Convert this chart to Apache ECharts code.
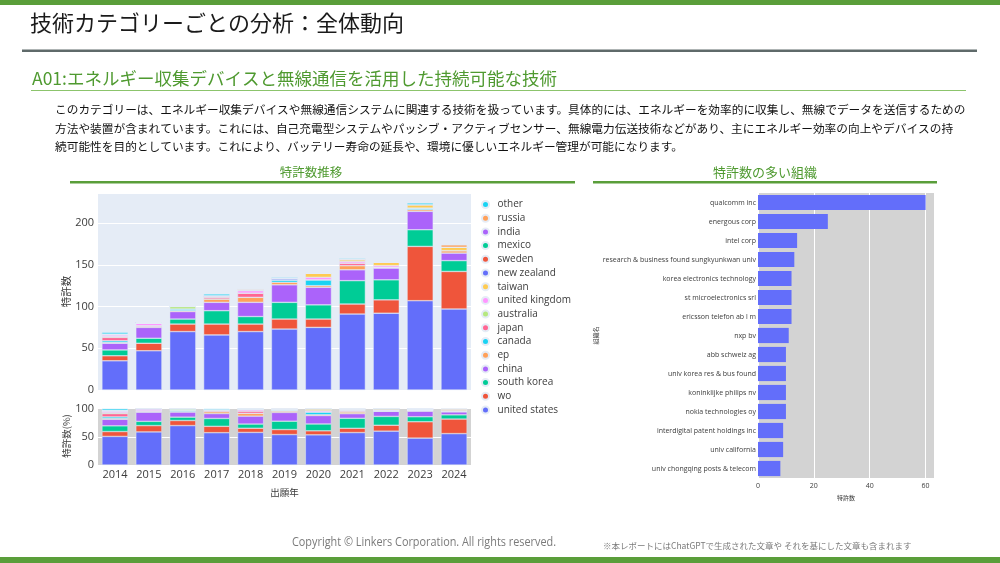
<!DOCTYPE html>
<html><head><meta charset="utf-8">
<script src="https://cdn.jsdelivr.net/npm/echarts@6/dist/echarts.min.js"></script>
<style>html,body{margin:0;padding:0;background:#fff;}#c{width:1000px;height:563px;}</style>
</head><body><div id="c"></div>
<script>
// ---- data ----
const years = ['2014','2015','2016','2017','2018','2019','2020','2021','2022','2023','2024'];
const countries = ['united states','wo','south korea','china','ep','canada','japan','australia','united kingdom','taiwan','new zealand','sweden','mexico','india','russia','other'];
const unitedStates  = [35,47,70,66,70,73,75,91,92,107,97];
const wo            = [6,9,9,13,9,12,10,12,16,65,45];
const southKorea    = [7,6,6,16,9,20,17,28,24,20,13];
const china         = [8,13,9,10,17,21,21,13,14,22,9];
const ep            = [1,1,1,4,6,3,2,5,1,2,3];
const canada        = [2,0,2,0,0,3,7,0,0,2,0];
const japan         = [4,1,0,2,5,0,0,3,0,0,0];
const australia     = [1,0,3,1,0,0,0,0,0,0,0];
const unitedKingdom = [2,3,0,1,3,0,3,2,2,0,0];
const taiwan        = [0,0,0,0,1,0,5,2,4,4,4];
const newZealand    = [1,0,0,0,0,2,0,0,0,0,0];
const sweden        = [0,0,0,0,0,0,0,1,0,0,0];
const mexico        = [0,0,0,0,0,0,0,0,0,0,0];
const india         = [0,0,0,0,0,0,0,0,0,0,0];
const russia        = [0,0,0,0,1,0,0,0,0,0,3];
const other         = [2,0,0,2,0,1,0,1,0,2,0];
const countryValues = [unitedStates,wo,southKorea,china,ep,canada,japan,australia,unitedKingdom,taiwan,newZealand,sweden,mexico,india,russia,other];

const orgs = ['qualcomm inc','energous corp','intel corp','research & business found sungkyunkwan univ','korea electronics technology','st microelectronics srl','ericsson telefon ab l m','nxp bv','abb schweiz ag','univ korea res & bus found','koninklijke philips nv','nokia technologies oy','interdigital patent holdings inc','univ california','univ chongqing posts & telecom'];
const orgCounts = [60,25,14,13,12,12,12,11,10,10,10,10,9,9,8];

// ---- style ----
const palette = ['#636EFA','#EF553B','#00CC96','#AB63FA','#FFA15A','#19D3F3','#FF6692','#B6E880','#FF97FF','#FECB52'];
const JP = '"Noto Sans CJK JP","Noto Sans",sans-serif';
const LAT = '"Open Sans","Noto Sans",sans-serif';
const GREEN = '#5a9e3a';
const AX = '#3c3c3c';

const totals = years.map((_, i) => countryValues.reduce((s, arr) => s + arr[i], 0));

const topSeries = countries.map((name, k) => ({
  name, type: 'bar', stack: 'cnt', xAxisIndex: 0, yAxisIndex: 0,
  barCategoryGap: '23%', data: countryValues[k],
  itemStyle: { color: palette[k % palette.length], borderColor: '#E5ECF6', borderWidth: 0.5 },
  emphasis: { disabled: true }
}));
const pctSeries = countries.map((name, k) => ({
  name, type: 'bar', stack: 'pct', xAxisIndex: 1, yAxisIndex: 1,
  barCategoryGap: '23%', data: countryValues[k].map((v, i) => v / totals[i] * 100),
  itemStyle: { color: palette[k % palette.length], borderColor: '#E5ECF6', borderWidth: 0.5 },
  emphasis: { disabled: true }
}));

function txt(text, x, y, size, color, opts) {
  opts = opts || {};
  return { type: 'text', x, y, scaleX: opts.scaleX || 1, silent: true,
    style: { text, x: 0, y: 0, fontSize: size, fontFamily: opts.font || JP, fill: color,
      textAlign: opts.align || 'left', textVerticalAlign: 'middle', fontWeight: opts.weight || 'normal' } };
}
function rect(x, y, w, h, fill) {
  return { type: 'rect', silent: true, shape: { x, y, width: w, height: h }, style: { fill } };
}

const option = {
  animation: false,
  backgroundColor: '#fff',
  graphic: [
    rect(0, 0, 1000, 5, GREEN),
    rect(0, 557, 1000, 6, GREEN),
    txt('技術カテゴリーごとの分析：全体動向', 30, 23, 22, '#1a1a1a'),
    rect(22, 49.5, 955, 2.5, '#5f6a6a'),
    txt('A01:エネルギー収集デバイスと無線通信を活用した持続可能な技術', 32, 78, 17.5, '#4f9a30'),
    rect(31, 90, 935, 1, '#8cc46c'),
    txt('このカテゴリーは、エネルギー収集デバイスや無線通信システムに関連する技術を扱っています。具体的には、エネルギーを効率的に収集し、無線でデータを送信するための', 55, 110, 11.7, '#111'),
    txt('方法や装置が含まれています。これには、自己充電型システムやパッシブ・アクティブセンサー、無線電力伝送技術などがあり、主にエネルギー効率の向上やデバイスの持', 55, 128.5, 11.7, '#111'),
    txt('続可能性を目的としています。これにより、バッテリー寿命の延長や、環境に優しいエネルギー管理が可能になります。', 55, 146.5, 11.7, '#111'),
    txt('特許数推移', 311, 172, 12.5, '#4f9a30', { align: 'center' }),
    rect(70, 181, 505, 2.5, GREEN),
    txt('特許数の多い組織', 765, 172, 13, '#4f9a30', { align: 'center' }),
    rect(593, 181, 344, 2.5, GREEN),
    txt('Copyright © Linkers Corporation. All rights reserved.', 292, 543, 12, '#7a7a7a', { font: '"Open Sans",sans-serif', scaleX: 0.905 }),
    txt('※本レポートにはChatGPTで生成された文章や それを基にした文章も含まれます', 603, 546, 8.5, '#7a7a7a')
  ],
  legend: {
    data: countries.slice().reverse(),
    orient: 'vertical', left: 476, top: 194.5, icon: 'circle',
    itemWidth: 14, itemHeight: 7, itemGap: 3.7, selectedMode: false,
    textStyle: { fontSize: 10, color: AX, fontFamily: LAT, lineHeight: 10 }
  },
  grid: [
    { left: 98, top: 193, width: 373, height: 197, show: true, backgroundColor: '#E5ECF6', borderWidth: 0 },
    { left: 98, top: 407, width: 373, height: 58, show: true, backgroundColor: '#d3d3d3', borderWidth: 0 },
    { left: 758, top: 193, width: 176, height: 285, show: true, backgroundColor: '#d3d3d3', borderWidth: 0 }
  ],
  xAxis: [
    { type: 'category', gridIndex: 0, data: years, axisLine: { show: false }, axisTick: { show: false }, axisLabel: { show: false } },
    { type: 'category', gridIndex: 1, data: years, axisLine: { show: false }, axisTick: { show: false },
      axisLabel: { fontSize: 11, color: AX, fontFamily: LAT, margin: 4 },
      name: '出願年', nameLocation: 'middle', nameGap: 23, nameTextStyle: { fontSize: 9.5, color: AX, fontFamily: JP } },
    { type: 'value', gridIndex: 2, min: 0, max: 63, interval: 20, axisLine: { show: false }, axisTick: { show: false },
      splitLine: { lineStyle: { color: '#fff', width: 1 } },
      axisLabel: { fontSize: 7, color: AX, fontFamily: LAT, margin: 4, showMaxLabel: false },
      name: '特許数', nameLocation: 'middle', nameGap: 17, nameTextStyle: { fontSize: 6, color: AX, fontFamily: JP } }
  ],
  yAxis: [
    { type: 'value', gridIndex: 0, min: 0, max: 236, interval: 50, axisLine: { show: false }, axisTick: { show: false },
      splitLine: { lineStyle: { color: '#fff', width: 1 } },
      axisLabel: { fontSize: 11, color: AX, fontFamily: LAT, margin: 4, showMaxLabel: false },
      name: '特許数', nameLocation: 'middle', nameGap: 26, nameRotate: 90, nameTextStyle: { fontSize: 10.5, color: AX, fontFamily: JP } },
    { type: 'value', gridIndex: 1, min: 0, max: 103, interval: 50, axisLine: { show: false }, axisTick: { show: false },
      splitLine: { lineStyle: { color: '#fff', width: 1 } },
      axisLabel: { fontSize: 11, color: AX, fontFamily: LAT, margin: 4, showMaxLabel: false },
      name: '特許数(%)', nameLocation: 'middle', nameGap: 26, nameRotate: 90, nameTextStyle: { fontSize: 9.5, color: AX, fontFamily: JP } },
    { type: 'category', gridIndex: 2, data: orgs, inverse: true, axisLine: { show: false }, axisTick: { show: false },
      axisLabel: { fontSize: 7, color: AX, fontFamily: LAT, margin: 2 },
      name: '組織名', nameLocation: 'middle', nameGap: 157, nameRotate: 90, nameTextStyle: { fontSize: 6, color: AX, fontFamily: JP } }
  ],
  series: topSeries.concat(pctSeries).concat([{
    name: '組織', type: 'bar', xAxisIndex: 2, yAxisIndex: 2, data: orgCounts, barCategoryGap: '20%',
    itemStyle: { color: '#636EFA' }, emphasis: { disabled: true }
  }])
};
const chart = echarts.init(document.getElementById('c'));
chart.setOption(option);
</script></body></html>
